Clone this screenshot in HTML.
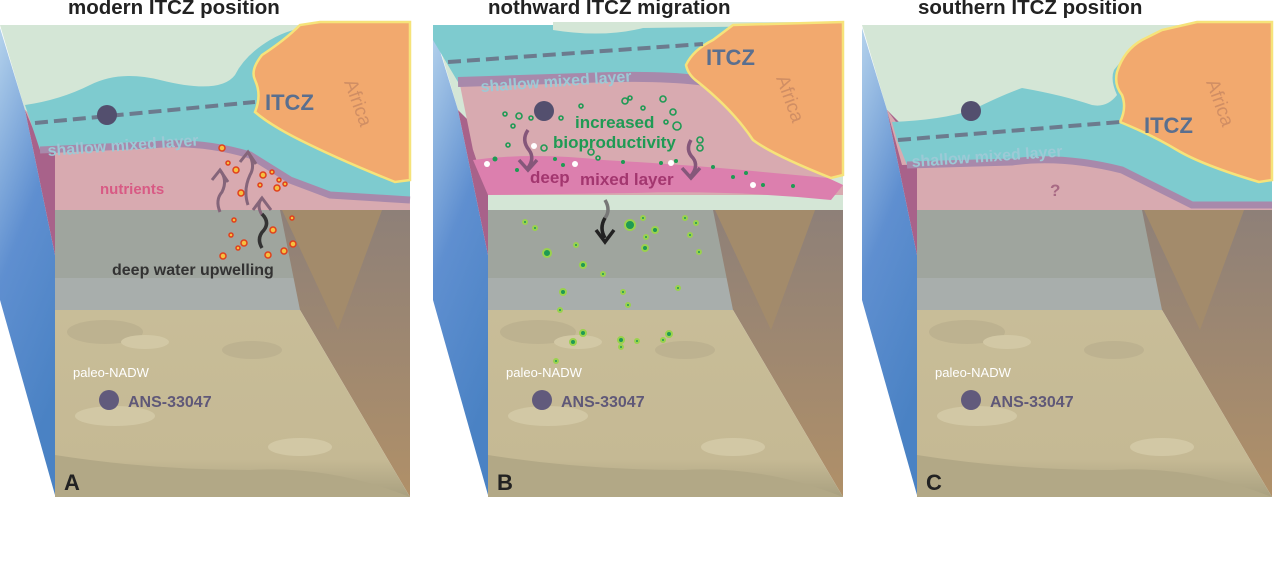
<!DOCTYPE html>
<html><head><meta charset="utf-8"><style>
html,body{margin:0;padding:0;background:#fff;width:1280px;height:577px;overflow:hidden}
svg{display:block}
text{font-family:"Liberation Sans",sans-serif}
.t{font-weight:bold;font-size:20.5px;fill:#222}
</style></head><body>
<svg width="1280" height="577" viewBox="0 0 1280 577" xmlns="http://www.w3.org/2000/svg">
<defs>
<linearGradient id="bl" x1="0" y1="0" x2="0.3" y2="1"><stop offset="0" stop-color="#b4d2ec"/><stop offset="0.5" stop-color="#5f8fd0"/><stop offset="1" stop-color="#4a82c4"/></linearGradient>
<linearGradient id="sd" x1="0" y1="0" x2="0" y2="1"><stop offset="0" stop-color="#c8bd98"/><stop offset="0.8" stop-color="#c5b994"/><stop offset="1" stop-color="#a9a080"/></linearGradient>
<linearGradient id="rb" x1="0" y1="0" x2="0" y2="1"><stop offset="0" stop-color="#8e8078"/><stop offset="1" stop-color="#b09068"/></linearGradient>
<g id="base">
<polygon points="0,25 410,25 410,210 55,210 25,110" fill="#d4e6d6"/>
<polygon points="0,28 25,110 55,255 55,495 0,300" fill="url(#bl)"/>
<polygon points="25,110 55,140 55,255" fill="#a8628a"/>
<rect x="55" y="210" width="245" height="100" fill="#9fa59e"/>
<rect x="55" y="278" width="245" height="32" fill="#a8aeac"/>
<polygon points="280,210 410,210 410,497 300,310" fill="url(#rb)"/>
<polygon points="282,210 382,210 338,330" fill="#a38b6b"/>
<polygon points="55,310 300,310 410,497 55,497" fill="url(#sd)"/>
<ellipse cx="105" cy="332" rx="38" ry="12" fill="#bdb290"/>
<ellipse cx="145" cy="342" rx="24" ry="7" fill="#d2c8a5"/>
<ellipse cx="252" cy="350" rx="30" ry="9" fill="#bdb290"/>
<ellipse cx="115" cy="416" rx="40" ry="10" fill="#d2c8a5"/>
<ellipse cx="300" cy="447" rx="32" ry="9" fill="#d2c8a5"/>
<path d="M55,455 Q150,470 250,470 Q330,465 410,497 L55,497Z" fill="#b2a886"/>
<text x="73" y="377" font-size="13" fill="#fff">paleo-NADW</text>
<circle cx="109" cy="400" r="10" fill="#615a7c"/>
<text x="128" y="407" font-size="16" font-weight="bold" fill="#5f5878">ANS-33047</text>
<path d="M330,40 L336,28 L340,42Z" fill="#c89070" opacity="0.8"/>
<text x="328" y="55" font-size="9" fill="#c08868">N</text>
</g>
</defs>

<!-- Panel A -->
<text class="t" x="68" y="14">modern ITCZ position</text>
<g>
<use href="#base"/>
<path d="M25,110 L55,140 L55,210 L410,210 L410,195 L330,190 L290,175 L250,150 L150,140 L40,145Z" fill="#d8aab0"/>
<path d="M25,105 Q60,100 90,85 Q120,70 160,80 Q220,95 235,75 Q245,55 270,40 Q290,28 320,25 L410,25 L410,200 L330,195 L290,180 L250,155 Q200,140 150,145 L40,150Z" fill="#7ecbcf"/>
<path d="M40,150 L150,145 Q200,140 250,155 L290,180 L330,195 L410,200" fill="none" stroke="#a889ab" stroke-width="7"/>
<path d="M255,80 Q250,70 262,55 Q285,40 300,25 L320,22 L345,22 L410,22 L410,180 L395,182 Q340,160 300,140 Q270,125 255,112 Q262,95 255,80Z" fill="#f2a96e" stroke="#f6e37a" stroke-width="2.5"/>
<path d="M35,123 L255,102" stroke="#6c7b8e" stroke-width="4" stroke-dasharray="13,6"/>
<circle cx="107" cy="115" r="10" fill="#534f6e"/>
<text x="265" y="110" font-size="22" font-weight="bold" fill="#5a6f8f">ITCZ</text>
<text x="0" y="0" font-size="19" fill="#d08e64" transform="translate(344,82) rotate(70)">Africa</text>
<text x="48" y="156" font-size="16" font-weight="bold" fill="#9ccad6" transform="rotate(-4 48 156)">shallow mixed layer</text>
<text x="100" y="194" font-size="15" font-weight="bold" fill="#d85a84">nutrients</text>
<g fill="#f5c040" stroke="#e0401c" stroke-width="1.5">
<circle cx="222" cy="148" r="3"/><circle cx="236" cy="170" r="3"/><circle cx="241" cy="193" r="3"/><circle cx="263" cy="175" r="3"/><circle cx="277" cy="188" r="3"/><circle cx="279" cy="180" r="2"/><circle cx="228" cy="163" r="2"/><circle cx="260" cy="185" r="2"/><circle cx="272" cy="172" r="2"/><circle cx="285" cy="184" r="2"/><circle cx="292" cy="218" r="2"/><circle cx="234" cy="220" r="2"/><circle cx="244" cy="243" r="3"/><circle cx="231" cy="235" r="2"/><circle cx="273" cy="230" r="3"/><circle cx="284" cy="251" r="3"/><circle cx="293" cy="244" r="3"/><circle cx="268" cy="255" r="3"/><circle cx="223" cy="256" r="3"/><circle cx="238" cy="248" r="2"/>
</g>
<g fill="none" stroke="#85657a" stroke-width="3">
<path d="M220,212 Q215,200 222,192 Q228,180 220,170"/><path d="M212,180 L220,170 L228,182"/>
<path d="M248,205 Q243,190 250,175 Q256,165 248,152"/><path d="M240,162 L248,152 L256,164"/>
<path d="M262,215 Q256,205 262,198"/><path d="M253,210 L262,198 L271,210"/>
</g>
<path d="M262,248 Q256,238 264,230 Q270,222 262,214" fill="none" stroke="#333" stroke-width="3.5"/>
<text x="112" y="275" font-size="16" font-weight="bold" fill="#333">deep water upwelling</text>
<text x="64" y="490" font-size="22" font-weight="bold" fill="#222">A</text>
</g>

<!-- Panel B -->
<text class="t" x="488" y="14">nothward ITCZ migration</text>
<g transform="translate(433,0)">
<use href="#base"/>
<path d="M25,75 L40,150 L55,195 L410,195 L410,185 L395,178 Q340,150 310,120 L300,85 Q200,60 25,75Z" fill="#d8aab0"/>
<path d="M40,150 L55,195 L55,210 L40,170Z" fill="#a8628a"/>
<path d="M40,160 Q100,152 170,160 Q260,165 330,172 L395,178 L410,185 L398,200 Q300,190 200,193 L55,195Z" fill="#dc7fae"/>
<path d="M0,25 L410,25 L410,60 L300,80 Q200,75 150,78 L25,82 L0,40Z" fill="#7ecbcf"/>
<path d="M25,82 L150,78 Q220,75 265,80 L300,85" fill="none" stroke="#a889ab" stroke-width="10"/>
<path d="M120,30 Q170,38 210,28 L410,25 L410,22 L120,22Z" fill="#d4e6d6"/>
<path d="M253,65 Q260,50 280,40 L300,25 L410,22 L410,175 L398,178 Q340,155 320,140 Q300,110 265,82 Q255,75 253,65Z" fill="#f2a96e" stroke="#f6e37a" stroke-width="2.5"/>
<path d="M15,62 L270,44" stroke="#6c7b8e" stroke-width="4" stroke-dasharray="13,6"/>
<text x="273" y="65" font-size="22" font-weight="bold" fill="#5a6f8f">ITCZ</text>
<text x="0" y="0" font-size="19" fill="#d08e64" transform="translate(343,78) rotate(70)">Africa</text>
<text x="48" y="92" font-size="16" font-weight="bold" fill="#9ccad6" transform="rotate(-4 48 92)">shallow mixed layer</text>
<circle cx="111" cy="111" r="10" fill="#534f6e"/>
<text x="142" y="128" font-size="17" font-weight="bold" fill="#1f9a54">increased</text>
<text x="120" y="148" font-size="17" font-weight="bold" fill="#1f9a54">bioproductivity</text>
<text x="97" y="183" font-size="17" font-weight="bold" fill="#a3366f">deep</text>
<text x="147" y="185" font-size="17" font-weight="bold" fill="#a3366f">mixed layer</text>
<g fill="none" stroke="#1f9a54" stroke-width="1.6">
<circle cx="72" cy="114" r="2"/><circle cx="86" cy="116" r="3"/><circle cx="80" cy="126" r="2"/><circle cx="98" cy="118" r="2"/><circle cx="128" cy="118" r="2"/><circle cx="148" cy="106" r="2"/><circle cx="192" cy="101" r="3"/><circle cx="197" cy="98" r="2"/><circle cx="230" cy="99" r="3"/><circle cx="240" cy="112" r="3"/><circle cx="244" cy="126" r="4"/><circle cx="233" cy="122" r="2"/><circle cx="267" cy="140" r="3"/><circle cx="267" cy="148" r="3"/><circle cx="111" cy="148" r="3"/><circle cx="158" cy="152" r="3"/><circle cx="165" cy="158" r="2"/><circle cx="75" cy="145" r="2"/><circle cx="210" cy="108" r="2"/>
</g>
<g fill="#1f9a54"><circle cx="62" cy="159" r="2.5"/><circle cx="84" cy="170" r="2"/><circle cx="122" cy="159" r="2"/><circle cx="130" cy="165" r="2"/><circle cx="190" cy="162" r="2"/><circle cx="228" cy="163" r="2"/><circle cx="280" cy="167" r="2"/><circle cx="313" cy="173" r="2"/><circle cx="330" cy="185" r="2"/><circle cx="360" cy="186" r="2"/><circle cx="300" cy="177" r="2"/><circle cx="243" cy="161" r="2"/></g>
<g fill="#fff"><circle cx="54" cy="164" r="3"/><circle cx="101" cy="146" r="3"/><circle cx="142" cy="164" r="3"/><circle cx="238" cy="163" r="3"/><circle cx="320" cy="185" r="3"/></g>
<g fill="none" stroke="#85577a" stroke-width="3.5">
<path d="M95,130 Q88,140 96,150 Q102,158 95,168"/><path d="M86,160 L95,170 L104,160"/>
<path d="M258,140 Q252,150 260,158 Q266,166 258,176"/><path d="M249,168 L258,178 L267,168"/>
</g>
<path d="M172,200 Q178,210 172,218 Q166,228 172,238" fill="none" stroke="#777" stroke-width="3.5"/>
<path d="M172,218 Q166,228 172,238" fill="none" stroke="#222" stroke-width="3.5"/>
<path d="M163,230 L172,242 L181,230" fill="none" stroke="#222" stroke-width="3.5"/>
<g fill="#1f9a54" stroke="#9ad24e" stroke-width="2">
<circle cx="92" cy="222" r="2"/><circle cx="102" cy="228" r="2"/><circle cx="197" cy="225" r="5"/><circle cx="210" cy="218" r="2"/><circle cx="222" cy="230" r="3"/><circle cx="212" cy="248" r="3"/><circle cx="114" cy="253" r="4"/><circle cx="150" cy="265" r="3"/><circle cx="143" cy="245" r="2"/><circle cx="170" cy="274" r="2"/><circle cx="252" cy="218" r="2"/><circle cx="263" cy="223" r="2"/><circle cx="257" cy="235" r="2"/><circle cx="266" cy="252" r="2"/><circle cx="245" cy="288" r="2"/><circle cx="130" cy="292" r="3"/><circle cx="190" cy="292" r="2"/><circle cx="195" cy="305" r="2"/><circle cx="127" cy="310" r="2"/><circle cx="150" cy="333" r="3"/><circle cx="140" cy="342" r="3"/><circle cx="188" cy="340" r="3"/><circle cx="204" cy="341" r="2"/><circle cx="188" cy="347" r="2"/><circle cx="236" cy="334" r="3"/><circle cx="123" cy="361" r="2"/><circle cx="230" cy="340" r="2"/><circle cx="213" cy="237" r="2"/></g>
<text x="64" y="490" font-size="22" font-weight="bold" fill="#222">B</text>
</g>

<!-- Panel C -->
<text class="t" x="918" y="14">southern ITCZ position</text>
<g transform="translate(862,0)">
<use href="#base"/>
<path d="M25,110 L55,150 L55,210 L410,210 L410,205 L330,205 L300,190 L260,168 Q200,155 150,162 L40,165Z" fill="#d8aab0"/>
<path d="M30,122 Q80,120 110,110 Q140,95 160,88 Q200,95 230,105 Q245,108 255,95 Q248,80 252,70 L260,60 L270,50 L410,30 L410,205 L330,205 L300,190 L260,170 Q200,155 150,162 L45,165 L35,140Z" fill="#7ecbcf"/>
<path d="M45,165 L150,162 Q200,155 260,170 L300,190 L330,205 L410,205" fill="none" stroke="#a889ab" stroke-width="7"/>
<path d="M255,72 Q262,50 280,40 L300,30 L335,22 L410,22 L410,180 L397,182 Q340,165 315,150 Q290,135 258,122 Q265,108 260,95 Q252,85 255,72Z" fill="#f2a96e" stroke="#f6e37a" stroke-width="2.5"/>
<path d="M36,140 L258,122" stroke="#6c7b8e" stroke-width="4" stroke-dasharray="13,6"/>
<circle cx="109" cy="111" r="10" fill="#534f6e"/>
<text x="282" y="133" font-size="22" font-weight="bold" fill="#5a6f8f">ITCZ</text>
<text x="0" y="0" font-size="19" fill="#d08e64" transform="translate(344,82) rotate(70)">Africa</text>
<text x="50" y="167" font-size="16" font-weight="bold" fill="#9ccad6" transform="rotate(-4 50 167)">shallow mixed layer</text>
<text x="188" y="196" font-size="17" font-weight="bold" fill="#a86a84">?</text>
<text x="64" y="490" font-size="22" font-weight="bold" fill="#222">C</text>
</g>
</svg>
</body></html>
